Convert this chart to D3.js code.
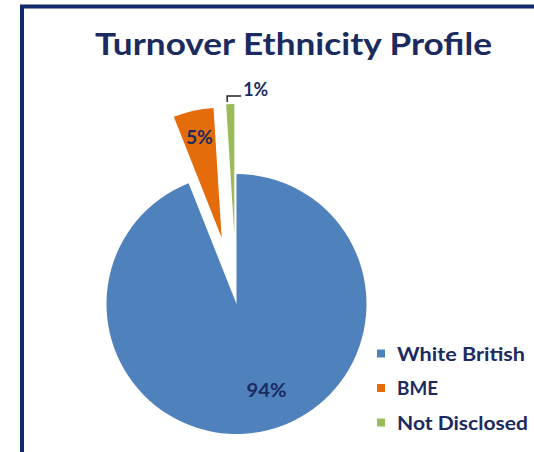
<!DOCTYPE html>
<html>
<head>
<meta charset="utf-8">
<script src="https://cdn.jsdelivr.net/npm/d3@7"></script>
<style>
  html, body { margin: 0; padding: 0; background: #ffffff; }
  svg { display: block; }
</style>
</head>
<body>
<div id="chart"></div>
<script>
// Turnover by ethnicity, in percent of leavers
const categories = ["White British", "BME", "Not Disclosed"];
const values = [94, 5, 1];
const colors = ["#4f81bd", "#e46c0a", "#9bbb59"];
const chartTitle = "Turnover Ethnicity Profile";

const W = 534, H = 452;
const ink = "#1c2b5f";
const fontFamily = "Lato, 'Noto Sans', sans-serif";

const svg = d3.select("#chart").append("svg")
  .attr("width", W).attr("height", H);

// frame: dark rule along the top and left of the chart area
svg.append("path")
  .attr("d", `M22,${H} L22,6.5 L${W},6.5`)
  .attr("fill", "none")
  .attr("stroke", "#102a6c")
  .attr("stroke-width", 4);

// size a text element by font size, then squeeze it to a set width
function boxText(sel, size, width) {
  sel.style("font-size", size + "px")
    .attr("textLength", width)
    .attr("lengthAdjust", "spacingAndGlyphs");
  return sel;
}

// title
boxText(svg.append("text")
  .attr("x", 293.5).attr("y", 54.5)
  .attr("text-anchor", "middle")
  .attr("fill", ink)
  .style("font-family", fontFamily)
  .style("font-weight", "bold")
  .text(chartTitle), 29.5, 397);

// pie geometry
const cx = 236.5, cy = 304, radius = 130;
const explode = [0, 68, 70];

const pie = d3.pie().sort(null).value(d => d)
  .startAngle(0).endAngle(2 * Math.PI);
const arcs = pie(values);
const arc = d3.arc().innerRadius(0).outerRadius(radius);

const g = svg.append("g").attr("transform", `translate(${cx},${cy})`);

// unit vector pointing out through the middle of a slice
function dir(a) {
  const m = (a.startAngle + a.endAngle) / 2;
  return [Math.sin(m), -Math.cos(m)];
}

const slices = g.selectAll("g.slice").data(arcs).enter().append("g")
  .attr("class", "slice")
  .attr("transform", (d, i) => {
    const [dx, dy] = dir(d);
    return `translate(${dx * explode[i]},${dy * explode[i]})`;
  });

slices.append("path")
  .attr("d", arc)
  .attr("fill", (d, i) => colors[i]);

const labelStyle = s => s
  .attr("fill", ink)
  .attr("text-anchor", "middle")
  .style("font-family", fontFamily)
  .style("font-weight", "bold");

const pct = d => Math.round(d.data) + "%";

// large slice label, placed inside the slice
{
  const d = arcs[0];
  const ang = 160.7 * Math.PI / 180, rr = 91;
  boxText(labelStyle(g.append("text"))
    .attr("x", Math.sin(ang) * rr)
    .attr("y", -Math.cos(ang) * rr)
    .attr("dy", "0.35em")
    .text(pct(d)), 19, 40);
}

// BME label, inside the exploded slice
{
  const d = arcs[1];
  const [dx, dy] = dir(d);
  const rr = explode[1] + 102;
  boxText(labelStyle(g.append("text"))
    .attr("x", dx * rr)
    .attr("y", dy * rr)
    .attr("dy", "0.35em")
    .text(pct(d)), 18, 27);
}

// Not Disclosed label, outside with an elbow leader line
{
  const d = arcs[2];
  const [dx, dy] = dir(d);
  const tipR = explode[2] + radius + 2;
  const x0 = dx * tipR - 3, y0 = dy * tipR;
  const elbowY = -208, endX = x0 + 14;
  g.append("path")
    .attr("d", `M${x0},${y0} L${x0},${elbowY} L${endX},${elbowY}`)
    .attr("fill", "none")
    .attr("stroke", "#222")
    .attr("stroke-width", 1.5);
  boxText(labelStyle(g.append("text"))
    .attr("text-anchor", "start")
    .attr("x", endX + 2)
    .attr("y", elbowY)
    .attr("dy", "0em")
    .text(pct(d)), 19, 25);
}

// legend
const legendX = 377, legendY0 = 353.5, legendStep = 34.5;
const legendWidths = [128, 41, 131];
const legend = svg.append("g");
const items = legend.selectAll("g").data(categories).enter().append("g")
  .attr("transform", (d, i) => `translate(${legendX},${legendY0 + i * legendStep})`);
items.append("rect")
  .attr("x", 0).attr("y", -4).attr("width", 8).attr("height", 8)
  .attr("fill", (d, i) => colors[i]);
items.append("text")
  .attr("x", 20).attr("y", 0).attr("dy", "0.36em")
  .attr("fill", ink)
  .style("font-family", fontFamily)
  .style("font-weight", "bold")
  .style("font-size", "19.5px")
  .attr("textLength", (d, i) => legendWidths[i])
  .attr("lengthAdjust", "spacingAndGlyphs")
  .text(d => d);
</script>
</body>
</html>
